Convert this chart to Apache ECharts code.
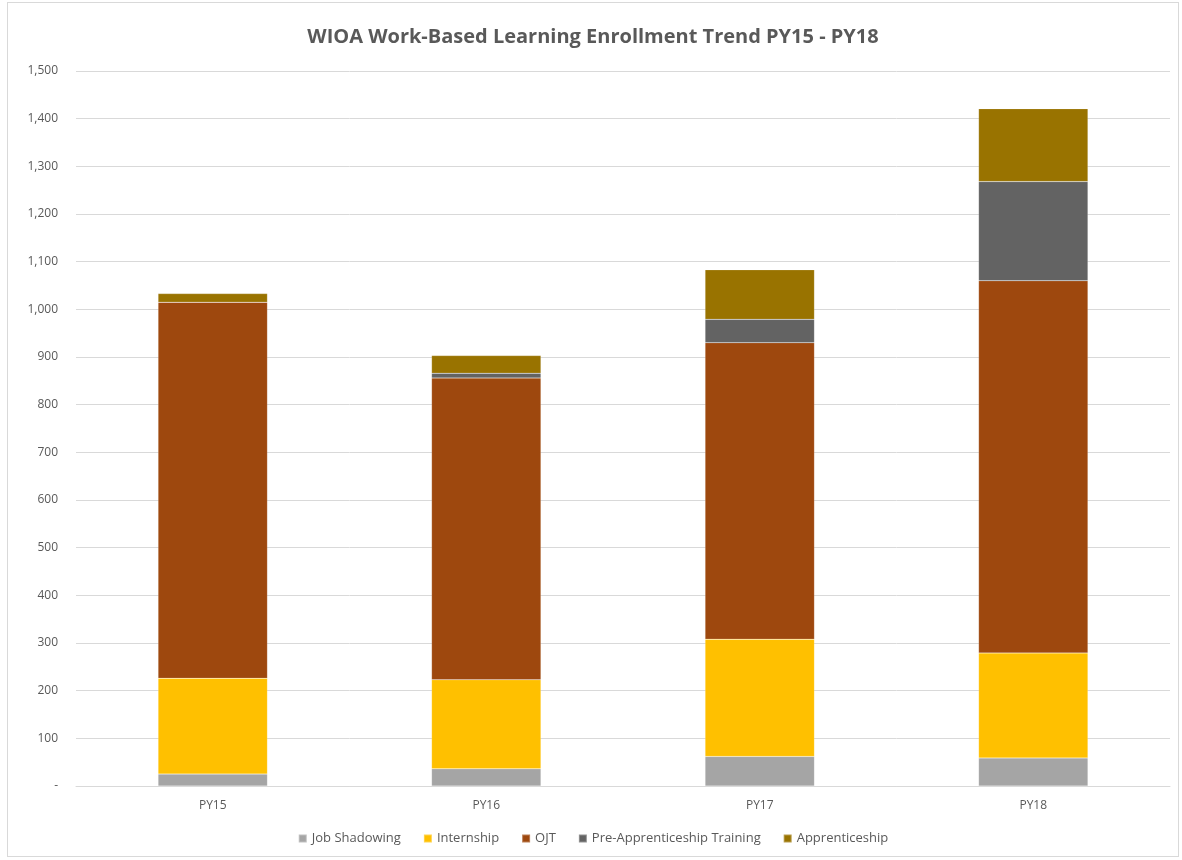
<!DOCTYPE html>
<html>
<head>
<meta charset="utf-8">
<script src="https://cdn.jsdelivr.net/npm/echarts@6/dist/echarts.min.js"></script>
<style>
    html, body { margin: 0; padding: 0; background: #fff; }
    #chart { position: absolute; left: 7px; top: 2px; width: 1172px; height: 855px; border: 1px solid #d9d9d9; box-sizing: border-box; }
</style>
</head>
<body>
<div id="chart"></div>
<script>
    // program years
    var years = ['PY15', 'PY16', 'PY17', 'PY18'];

    // enrollment per type
    var jobShadowing = [25, 36, 62, 59];
    var internship = [201, 187, 246, 220];
    var ojt = [789, 633, 622, 781];
    var preApprenticeship = [0, 10, 49, 208];
    var apprenticeship = [18, 37, 104, 153];

    var colors = ['#A5A5A5', '#FFC000', '#9E480E', '#636363', '#997300'];

    function makeSeries(name, data) {
        return {
            name: name,
            type: 'bar',
            stack: 'total',
            barWidth: '40%',
            data: data,
            itemStyle: { borderColor: 'rgba(255,255,255,0.3)', borderWidth: 0.5 }
        };
    }

    var myChart = echarts.init(document.getElementById('chart'));
    myChart.setOption({
        color: colors,
        animation: false,
        textStyle: { fontFamily: 'Open Sans' },
        title: {
            text: 'WIOA Work-Based Learning Enrollment Trend PY15 - PY18',
            left: 'center',
            top: 19,
            textStyle: { fontSize: 20, fontWeight: 'bold', color: '#595959', fontFamily: 'Open Sans' }
        },
        legend: {
            bottom: 6,
            left: 'center',
            itemWidth: 8,
            itemHeight: 8,
            itemGap: 22,
            icon: 'rect',
            textStyle: { color: '#595959', fontSize: 13 },
            data: ['Job Shadowing', 'Internship', 'OJT', 'Pre-Apprenticeship Training', 'Apprenticeship']
        },
        grid: { left: 68, right: 8, top: 68, bottom: 70 },
        xAxis: {
            type: 'category',
            data: years,
            axisTick: { show: false },
            axisLine: { lineStyle: { color: '#d9d9d9' } },
            axisLabel: { color: '#595959', fontSize: 12, margin: 14 }
        },
        yAxis: {
            type: 'value',
            min: 0,
            max: 1500,
            interval: 100,
            axisLine: { show: false },
            axisTick: { show: false },
            splitLine: { lineStyle: { color: '#d9d9d9' } },
            axisLabel: {
                color: '#595959',
                fontSize: 12,
                margin: 18,
                formatter: function (v) {
                    return v === 0 ? '-' : v.toLocaleString('en-US');
                }
            }
        },
        series: [
            makeSeries('Job Shadowing', jobShadowing),
            makeSeries('Internship', internship),
            makeSeries('OJT', ojt),
            makeSeries('Pre-Apprenticeship Training', preApprenticeship),
            makeSeries('Apprenticeship', apprenticeship)
        ]
    });
</script>
</body>
</html>
